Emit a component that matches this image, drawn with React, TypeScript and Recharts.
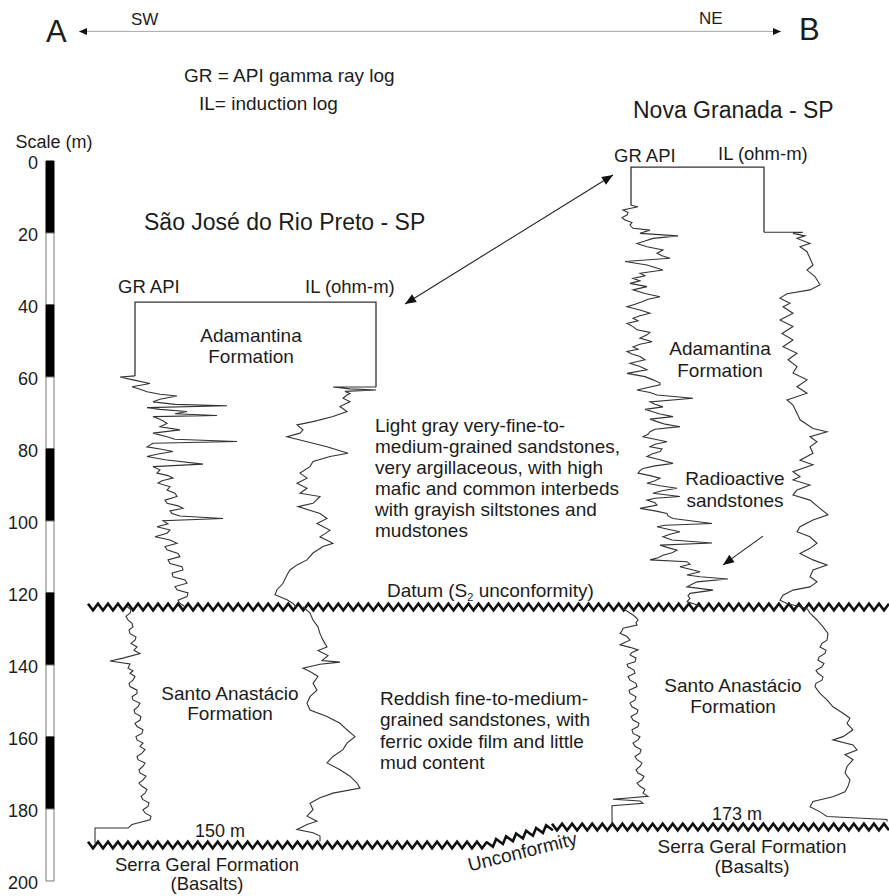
import React from 'react';
import {
  ComposedChart,
  XAxis,
  YAxis,
  Scatter,
  ReferenceLine,
  ReferenceArea,
  ReferenceDot,
} from 'recharts';

type Pt = { x: number; d: number };

// depth scale (m)
const depthTicks = [0, 20, 40, 60, 80, 100, 120, 140, 160, 180, 200];

// formation tops (m, relative to datum section)
const datumDepth = 123.9;
const baseDepthSW = 190.0;
const baseDepthNE = 185.0;
const unconformityRiseStart = 487;
const unconformityRiseEnd = 552;

// ---- São José do Rio Preto well (SW) ----
const w1Frame: Pt[] = [
  { x: 135, d: 59.7 }, { x: 135, d: 39.2 }, { x: 376, d: 39.2 }, { x: 376, d: 62.8 },
];

const w1GrUpper: Pt[] = [
  { d: 59.7, x: 135 }, { d: 60.0, x: 120 }, { d: 60.8, x: 133 }, { d: 61.8, x: 150 },
  { d: 62.7, x: 132 }, { d: 63.4, x: 140 }, { d: 64.1, x: 147 }, { d: 64.8, x: 160 },
  { d: 65.3, x: 177 }, { d: 66.2, x: 160 }, { d: 66.9, x: 153 }, { d: 67.6, x: 175 },
  { d: 68.0, x: 227 }, { d: 68.5, x: 147 }, { d: 69.0, x: 160 }, { d: 69.6, x: 187 },
  { d: 70.2, x: 175 }, { d: 70.7, x: 217 }, { d: 71.0, x: 153 }, { d: 72.0, x: 162 },
  { d: 72.9, x: 167 }, { d: 73.8, x: 160 }, { d: 74.7, x: 180 }, { d: 75.6, x: 153 },
  { d: 76.6, x: 167 }, { d: 77.3, x: 175 }, { d: 77.9, x: 237 }, { d: 78.4, x: 153 },
  { d: 79.4, x: 147 }, { d: 80.0, x: 160 }, { d: 80.7, x: 173 }, { d: 81.4, x: 158 },
  { d: 82.1, x: 147 }, { d: 83.0, x: 165 }, { d: 84.2, x: 203 }, { d: 84.9, x: 153 },
  { d: 85.8, x: 160 }, { d: 86.7, x: 157 }, { d: 87.4, x: 168 }, { d: 88.1, x: 173 },
  { d: 88.8, x: 162 }, { d: 89.5, x: 158 }, { d: 90.5, x: 170 }, { d: 91.4, x: 167 },
  { d: 92.3, x: 175 }, { d: 93.2, x: 177 }, { d: 94.2, x: 165 }, { d: 95.1, x: 167 },
  { d: 95.8, x: 178 }, { d: 96.5, x: 183 }, { d: 97.2, x: 170 }, { d: 97.9, x: 172 },
  { d: 98.6, x: 180 }, { d: 99.3, x: 223 }, { d: 99.9, x: 163 }, { d: 100.8, x: 168 },
  { d: 101.6, x: 157 }, { d: 102.5, x: 170 }, { d: 103.4, x: 167 }, { d: 104.4, x: 155 },
  { d: 105.3, x: 170 }, { d: 106.2, x: 177 }, { d: 107.1, x: 165 }, { d: 108.0, x: 167 },
  { d: 109.0, x: 178 }, { d: 109.9, x: 180 }, { d: 110.8, x: 168 }, { d: 111.8, x: 170 },
  { d: 112.7, x: 182 }, { d: 113.6, x: 183 }, { d: 114.5, x: 172 }, { d: 115.5, x: 173 },
  { d: 116.4, x: 185 }, { d: 117.3, x: 187 }, { d: 118.2, x: 175 }, { d: 119.1, x: 177 },
  { d: 120.0, x: 188 }, { d: 121.0, x: 187 }, { d: 122.0, x: 178 }, { d: 122.9, x: 180 },
  { d: 123.8, x: 185 },
];

const w1IlUpper: Pt[] = [
  { d: 62.8, x: 376 }, { d: 62.8, x: 333 }, { d: 63.3, x: 350 }, { d: 63.6, x: 376 },
  { d: 64.0, x: 345 }, { d: 64.6, x: 350 }, { d: 65.0, x: 347 }, { d: 65.9, x: 343 },
  { d: 66.9, x: 350 }, { d: 68.2, x: 340 }, { d: 69.6, x: 347 }, { d: 71.0, x: 333 },
  { d: 72.4, x: 313 }, { d: 73.3, x: 297 }, { d: 74.7, x: 303 }, { d: 75.6, x: 300 },
  { d: 76.6, x: 287 }, { d: 77.5, x: 300 }, { d: 79.4, x: 327 }, { d: 81.2, x: 348 },
  { d: 82.1, x: 330 }, { d: 83.5, x: 313 }, { d: 84.9, x: 310 }, { d: 86.7, x: 300 },
  { d: 88.1, x: 307 }, { d: 89.5, x: 297 }, { d: 90.9, x: 307 }, { d: 92.3, x: 300 },
  { d: 93.2, x: 320 }, { d: 95.1, x: 313 }, { d: 96.0, x: 298 }, { d: 97.9, x: 320 },
  { d: 99.3, x: 327 }, { d: 100.7, x: 317 }, { d: 102.6, x: 330 }, { d: 104.4, x: 320 },
  { d: 106.2, x: 333 }, { d: 107.1, x: 323 }, { d: 108.9, x: 313 }, { d: 110.8, x: 307 },
  { d: 112.2, x: 297 }, { d: 113.6, x: 290 }, { d: 115.0, x: 287 }, { d: 117.3, x: 283 },
  { d: 119.1, x: 277 }, { d: 120.5, x: 275 }, { d: 121.9, x: 287 }, { d: 122.9, x: 293 },
  { d: 124.2, x: 297 },
];

const w1GrLower: Pt[] = [
  { d: 123.8, x: 127 }, { d: 124.7, x: 131 }, { d: 125.6, x: 130 }, { d: 126.5, x: 126 },
  { d: 127.5, x: 128 }, { d: 128.4, x: 132 }, { d: 129.4, x: 133 }, { d: 130.3, x: 129 },
  { d: 131.3, x: 130 }, { d: 132.2, x: 136 }, { d: 133.1, x: 135 }, { d: 134.0, x: 131 },
  { d: 135.0, x: 137 }, { d: 135.9, x: 134 }, { d: 136.8, x: 140 }, { d: 138.1, x: 123 },
  { d: 138.9, x: 110 }, { d: 139.7, x: 130 }, { d: 140.9, x: 128 }, { d: 141.6, x: 133 },
  { d: 142.3, x: 130 }, { d: 143.2, x: 135 }, { d: 144.2, x: 133 }, { d: 145.1, x: 129 },
  { d: 146.0, x: 130 }, { d: 147.0, x: 137 }, { d: 147.9, x: 137 }, { d: 148.8, x: 132 },
  { d: 149.7, x: 133 }, { d: 150.6, x: 140 }, { d: 151.6, x: 138 }, { d: 152.5, x: 134 },
  { d: 153.4, x: 135 }, { d: 154.3, x: 141 }, { d: 155.3, x: 140 }, { d: 156.2, x: 135 },
  { d: 157.1, x: 137 }, { d: 158.0, x: 143 }, { d: 159.0, x: 142 }, { d: 159.9, x: 136 },
  { d: 160.8, x: 137 }, { d: 161.7, x: 143 }, { d: 162.6, x: 140 }, { d: 163.5, x: 145 },
  { d: 164.5, x: 142 }, { d: 165.4, x: 137 }, { d: 166.3, x: 138 }, { d: 167.2, x: 145 },
  { d: 168.2, x: 143 }, { d: 169.1, x: 139 }, { d: 170.0, x: 140 }, { d: 170.9, x: 146 },
  { d: 171.9, x: 143 }, { d: 172.8, x: 139 }, { d: 173.7, x: 142 }, { d: 174.6, x: 147 },
  { d: 175.6, x: 145 }, { d: 176.5, x: 141 }, { d: 177.4, x: 143 }, { d: 178.3, x: 149 },
  { d: 179.3, x: 148 }, { d: 180.2, x: 143 }, { d: 181.1, x: 145 }, { d: 182.0, x: 151 },
  { d: 183.0, x: 150 }, { d: 184.3, x: 132 }, { d: 185.3, x: 128 }, { d: 185.3, x: 95 },
  { d: 189.5, x: 95 },
];

const w1IlLower: Pt[] = [
  { d: 123.8, x: 303 }, { d: 125.6, x: 310 }, { d: 127.5, x: 313 }, { d: 129.4, x: 318 },
  { d: 131.3, x: 320 }, { d: 133.1, x: 323 }, { d: 135.0, x: 327 }, { d: 136.0, x: 318 },
  { d: 137.4, x: 328 }, { d: 138.8, x: 322 }, { d: 139.2, x: 340 }, { d: 139.8, x: 320 },
  { d: 140.9, x: 303 }, { d: 141.8, x: 310 }, { d: 143.2, x: 318 }, { d: 145.1, x: 313 },
  { d: 147.0, x: 317 }, { d: 148.8, x: 310 }, { d: 150.6, x: 307 }, { d: 152.5, x: 310 },
  { d: 154.3, x: 327 }, { d: 156.2, x: 340 }, { d: 158.0, x: 347 }, { d: 159.9, x: 355 },
  { d: 161.7, x: 347 }, { d: 163.5, x: 343 }, { d: 165.4, x: 333 }, { d: 167.2, x: 327 },
  { d: 169.1, x: 340 }, { d: 170.9, x: 350 }, { d: 172.8, x: 357 }, { d: 174.2, x: 360 },
  { d: 175.6, x: 333 }, { d: 176.9, x: 320 }, { d: 178.4, x: 310 }, { d: 180.2, x: 313 },
  { d: 182.0, x: 307 }, { d: 183.4, x: 317 }, { d: 184.3, x: 307 }, { d: 185.7, x: 297 },
  { d: 186.6, x: 313 }, { d: 187.5, x: 320 }, { d: 189.0, x: 320 },
];

// ---- Nova Granada well (NE) ----
const w2Frame: Pt[] = [
  { x: 631, d: 12.3 }, { x: 631, d: 1.7 }, { x: 764, d: 1.7 }, { x: 764, d: 19.8 },
];

const w2GrUpper: Pt[] = [
  { d: 12.3, x: 631 }, { d: 12.7, x: 638 }, { d: 13.6, x: 623 }, { d: 14.3, x: 628 },
  { d: 15.0, x: 627 }, { d: 15.7, x: 622 }, { d: 16.4, x: 625 }, { d: 17.1, x: 632 },
  { d: 17.8, x: 630 }, { d: 18.7, x: 633 }, { d: 19.2, x: 650 }, { d: 20.1, x: 640 },
  { d: 20.8, x: 678 }, { d: 21.5, x: 653 }, { d: 22.2, x: 645 }, { d: 22.9, x: 637 },
  { d: 23.8, x: 647 }, { d: 24.7, x: 663 }, { d: 25.6, x: 657 }, { d: 26.3, x: 662 },
  { d: 27.0, x: 670 }, { d: 27.9, x: 625 }, { d: 28.9, x: 647 }, { d: 29.6, x: 655 },
  { d: 30.3, x: 663 }, { d: 31.2, x: 640 }, { d: 31.9, x: 645 }, { d: 32.6, x: 633 },
  { d: 33.3, x: 640 }, { d: 34.0, x: 630 }, { d: 34.9, x: 647 }, { d: 35.8, x: 633 },
  { d: 36.8, x: 645 }, { d: 37.7, x: 660 }, { d: 38.4, x: 648 }, { d: 39.1, x: 642 },
  { d: 39.8, x: 635 }, { d: 40.5, x: 627 }, { d: 41.4, x: 640 }, { d: 42.3, x: 650 },
  { d: 43.0, x: 640 }, { d: 43.7, x: 633 }, { d: 44.4, x: 638 }, { d: 45.1, x: 627 },
  { d: 46.0, x: 633 }, { d: 46.9, x: 637 }, { d: 47.6, x: 650 }, { d: 48.3, x: 647 },
  { d: 49.2, x: 640 }, { d: 50.2, x: 652 }, { d: 50.9, x: 640 }, { d: 51.6, x: 633 },
  { d: 52.3, x: 638 }, { d: 52.9, x: 627 }, { d: 53.6, x: 632 }, { d: 54.3, x: 640 },
  { d: 55.2, x: 645 }, { d: 56.2, x: 630 }, { d: 57.1, x: 640 }, { d: 58.0, x: 647 },
  { d: 59.0, x: 627 }, { d: 59.9, x: 645 }, { d: 60.8, x: 653 }, { d: 61.7, x: 660 },
  { d: 62.2, x: 660 }, { d: 63.6, x: 637 }, { d: 64.3, x: 650 }, { d: 65.0, x: 657 },
  { d: 65.9, x: 693 }, { d: 66.9, x: 650 }, { d: 67.6, x: 655 }, { d: 68.3, x: 663 },
  { d: 69.0, x: 645 }, { d: 69.6, x: 652 }, { d: 70.3, x: 660 }, { d: 71.0, x: 673 },
  { d: 71.7, x: 650 }, { d: 72.4, x: 657 }, { d: 73.1, x: 665 }, { d: 73.8, x: 680 },
  { d: 74.5, x: 655 }, { d: 75.2, x: 650 }, { d: 75.9, x: 648 }, { d: 76.6, x: 643 },
  { d: 77.3, x: 655 }, { d: 78.0, x: 667 }, { d: 78.7, x: 655 }, { d: 79.4, x: 650 },
  { d: 80.0, x: 662 }, { d: 80.7, x: 660 }, { d: 81.4, x: 652 }, { d: 82.1, x: 647 },
  { d: 83.0, x: 660 }, { d: 84.0, x: 673 }, { d: 84.7, x: 655 }, { d: 85.4, x: 643 },
  { d: 86.0, x: 640 }, { d: 86.7, x: 638 }, { d: 87.4, x: 650 }, { d: 88.1, x: 660 },
  { d: 88.8, x: 655 }, { d: 89.5, x: 647 }, { d: 90.2, x: 660 }, { d: 90.9, x: 677 },
  { d: 91.6, x: 662 }, { d: 92.3, x: 653 }, { d: 93.2, x: 680 }, { d: 93.7, x: 655 },
  { d: 94.2, x: 647 }, { d: 94.9, x: 655 }, { d: 95.6, x: 657 }, { d: 96.5, x: 640 },
  { d: 97.2, x: 655 }, { d: 97.9, x: 667 }, { d: 98.6, x: 668 }, { d: 99.3, x: 673 },
  { d: 100.7, x: 712 }, { d: 101.2, x: 665 }, { d: 101.6, x: 657 }, { d: 102.3, x: 668 },
  { d: 103.0, x: 680 }, { d: 103.7, x: 670 }, { d: 104.4, x: 663 }, { d: 105.3, x: 672 },
  { d: 106.1, x: 712 }, { d: 106.7, x: 660 }, { d: 107.4, x: 668 }, { d: 108.1, x: 677 },
  { d: 108.8, x: 672 }, { d: 109.5, x: 663 }, { d: 110.2, x: 658 }, { d: 110.8, x: 650 },
  { d: 111.3, x: 687 }, { d: 112.0, x: 690 }, { d: 112.7, x: 680 }, { d: 113.4, x: 690 },
  { d: 114.1, x: 700 }, { d: 115.0, x: 687 }, { d: 115.5, x: 700 }, { d: 116.1, x: 728 },
  { d: 116.9, x: 697 }, { d: 117.6, x: 692 }, { d: 118.3, x: 687 }, { d: 119.2, x: 713 },
  { d: 120.1, x: 690 }, { d: 120.8, x: 688 }, { d: 121.5, x: 690 }, { d: 122.4, x: 687 },
  { d: 123.1, x: 695 }, { d: 123.8, x: 700 },
];

const w2IlUpper: Pt[] = [
  { d: 19.8, x: 764 }, { d: 19.8, x: 803 }, { d: 20.1, x: 793 }, { d: 20.8, x: 805 },
  { d: 21.5, x: 797 }, { d: 22.9, x: 810 }, { d: 23.8, x: 800 }, { d: 25.2, x: 807 },
  { d: 27.0, x: 810 }, { d: 28.9, x: 813 }, { d: 30.3, x: 807 }, { d: 32.1, x: 815 },
  { d: 34.4, x: 820 }, { d: 35.8, x: 810 }, { d: 36.9, x: 787 }, { d: 38.1, x: 780 },
  { d: 39.5, x: 790 }, { d: 40.5, x: 783 }, { d: 42.3, x: 793 }, { d: 44.2, x: 780 },
  { d: 46.0, x: 793 }, { d: 47.9, x: 782 }, { d: 49.7, x: 793 }, { d: 51.6, x: 783 },
  { d: 53.4, x: 797 }, { d: 55.2, x: 788 }, { d: 57.1, x: 797 }, { d: 58.9, x: 793 },
  { d: 60.8, x: 807 }, { d: 62.7, x: 797 }, { d: 64.5, x: 807 }, { d: 66.4, x: 787 },
  { d: 67.8, x: 793 }, { d: 70.1, x: 797 }, { d: 71.9, x: 800 }, { d: 74.3, x: 813 },
  { d: 75.2, x: 827 }, { d: 76.6, x: 810 }, { d: 78.0, x: 817 }, { d: 79.4, x: 810 },
  { d: 81.2, x: 813 }, { d: 83.1, x: 800 }, { d: 84.4, x: 813 }, { d: 86.3, x: 793 },
  { d: 87.7, x: 800 }, { d: 88.6, x: 793 }, { d: 90.0, x: 810 }, { d: 91.4, x: 797 },
  { d: 92.8, x: 793 }, { d: 94.2, x: 810 }, { d: 96.5, x: 820 }, { d: 98.3, x: 828 },
  { d: 99.7, x: 813 }, { d: 101.6, x: 800 }, { d: 103.0, x: 797 }, { d: 104.4, x: 810 },
  { d: 106.2, x: 817 }, { d: 107.6, x: 810 }, { d: 109.0, x: 800 }, { d: 110.8, x: 813 },
  { d: 112.2, x: 827 }, { d: 113.6, x: 813 }, { d: 115.5, x: 810 }, { d: 116.9, x: 817 },
  { d: 118.3, x: 810 }, { d: 119.2, x: 793 }, { d: 120.6, x: 783 }, { d: 122.0, x: 780 },
  { d: 122.9, x: 787 }, { d: 124.3, x: 807 },
];

const w2GrLower: Pt[] = [
  { d: 124.3, x: 623 }, { d: 125.2, x: 628 }, { d: 126.1, x: 633 }, { d: 126.8, x: 636 },
  { d: 127.5, x: 638 }, { d: 128.2, x: 636 }, { d: 128.9, x: 637 }, { d: 129.8, x: 623 },
  { d: 130.5, x: 622 }, { d: 131.2, x: 620 }, { d: 132.1, x: 627 }, { d: 133.1, x: 630 },
  { d: 133.8, x: 624 }, { d: 134.4, x: 620 }, { d: 135.1, x: 630 }, { d: 135.8, x: 638 },
  { d: 136.5, x: 632 }, { d: 137.2, x: 630 }, { d: 138.1, x: 636 }, { d: 139.1, x: 635 },
  { d: 139.8, x: 627 }, { d: 140.5, x: 628 }, { d: 141.4, x: 634 }, { d: 142.3, x: 635 },
  { d: 143.2, x: 628 }, { d: 144.2, x: 630 }, { d: 145.1, x: 636 }, { d: 146.0, x: 637 },
  { d: 147.0, x: 629 }, { d: 147.9, x: 630 }, { d: 148.8, x: 636 }, { d: 149.7, x: 635 },
  { d: 150.6, x: 630 }, { d: 151.6, x: 632 }, { d: 152.5, x: 638 }, { d: 153.4, x: 637 },
  { d: 154.3, x: 631 }, { d: 155.3, x: 633 }, { d: 156.2, x: 639 }, { d: 157.1, x: 638 },
  { d: 158.0, x: 632 }, { d: 159.0, x: 633 }, { d: 159.9, x: 640 }, { d: 160.8, x: 638 },
  { d: 161.7, x: 633 }, { d: 162.6, x: 635 }, { d: 163.5, x: 641 }, { d: 164.5, x: 640 },
  { d: 165.4, x: 635 }, { d: 166.3, x: 637 }, { d: 167.2, x: 642 }, { d: 168.2, x: 640 },
  { d: 169.1, x: 636 }, { d: 170.0, x: 638 }, { d: 170.9, x: 644 }, { d: 171.9, x: 642 },
  { d: 172.8, x: 637 }, { d: 173.7, x: 640 }, { d: 174.6, x: 645 }, { d: 175.6, x: 643 },
  { d: 176.5, x: 648 }, { d: 177.3, x: 613 }, { d: 177.8, x: 640 }, { d: 178.4, x: 643 },
  { d: 179.1, x: 612 }, { d: 179.8, x: 612 }, { d: 184.4, x: 612 },
];

const w2IlLower: Pt[] = [
  { d: 124.3, x: 807 }, { d: 125.6, x: 810 }, { d: 127.5, x: 817 }, { d: 129.4, x: 823 },
  { d: 131.2, x: 828 }, { d: 133.1, x: 827 }, { d: 134.0, x: 822 }, { d: 135.0, x: 820 },
  { d: 135.9, x: 826 }, { d: 136.8, x: 825 }, { d: 137.8, x: 819 }, { d: 138.7, x: 818 },
  { d: 139.6, x: 824 }, { d: 140.5, x: 822 }, { d: 141.5, x: 816 }, { d: 142.3, x: 818 },
  { d: 143.3, x: 823 }, { d: 144.2, x: 822 }, { d: 145.1, x: 816 }, { d: 146.0, x: 815 },
  { d: 147.9, x: 820 }, { d: 149.7, x: 827 }, { d: 151.6, x: 833 }, { d: 153.4, x: 843 },
  { d: 154.8, x: 850 }, { d: 156.2, x: 847 }, { d: 158.0, x: 853 }, { d: 159.9, x: 843 },
  { d: 160.8, x: 833 }, { d: 162.2, x: 853 }, { d: 163.6, x: 857 }, { d: 164.9, x: 845 },
  { d: 166.3, x: 853 }, { d: 168.2, x: 847 }, { d: 170.0, x: 845 }, { d: 171.9, x: 850 },
  { d: 173.7, x: 848 }, { d: 175.2, x: 845 }, { d: 176.6, x: 833 }, { d: 177.9, x: 813 },
  { d: 179.4, x: 810 }, { d: 180.8, x: 820 }, { d: 182.1, x: 827 }, { d: 182.9, x: 887 },
  { d: 183.5, x: 887 },
];

const FONT = '"Liberation Sans", Arial, Helvetica, sans-serif';
const INK = '#1c1c1c';
const LOG = '#333333';

const noShape = () => <g />;

// zig-zag unconformity symbol drawn along a reference segment
const zigzag = (props: any) => {
  const { x1, y1, x2, y2 } = props;
  const dx = x2 - x1;
  const dy = y2 - y1;
  const len = Math.hypot(dx, dy);
  if (!len) return <g />;
  const ux = dx / len;
  const uy = dy / len;
  const px = -uy;
  const py = ux;
  const n = Math.max(1, Math.round(len / 5));
  let p = '';
  for (let i = 0; i <= n; i++) {
    const t = (i / n) * len;
    const s = i % 2 === 0 ? -3.3 : 3.3;
    p += `${i ? 'L' : 'M'}${(x1 + ux * t + px * s).toFixed(1)},${(y1 + uy * t + py * s).toFixed(1)}`;
  }
  return <path d={p} stroke="#111" strokeWidth={2.6} fill="none" />;
};

const arrowShape =
  (startHead: boolean, endHead: boolean, color: string, lineColor: string, w: number, hl: number, hw: number) =>
  (props: any) => {
    const { x1, y1, x2, y2 } = props;
    const dx = x2 - x1;
    const dy = y2 - y1;
    const len = Math.hypot(dx, dy) || 1;
    const ux = dx / len;
    const uy = dy / len;
    const head = (tx: number, ty: number, dirx: number, diry: number) => {
      const bx = tx - dirx * hl;
      const by = ty - diry * hl;
      const pts = [
        [tx, ty],
        [bx - diry * hw, by + dirx * hw],
        [bx + diry * hw, by - dirx * hw],
      ];
      return <polygon points={pts.map((q) => q.join(',')).join(' ')} fill={color} />;
    };
    return (
      <g>
        <line x1={x1} y1={y1} x2={x2} y2={y2} stroke={lineColor} strokeWidth={w} />
        {startHead && head(x1, y1, -ux, -uy)}
        {endHead && head(x2, y2, ux, uy)}
      </g>
    );
  };

const note = (
  key: string,
  x: number,
  d: number,
  content: string | string[] | React.ReactNode,
  size: number,
  anchor: 'start' | 'middle' | 'end' = 'start',
  lh = 21,
  rotate = 0
) => (
  <ReferenceDot
    key={key}
    x={x}
    y={d}
    r={0}
    ifOverflow="visible"
    shape={(p: any) => (
      <text
        x={p.cx}
        y={p.cy}
        fontSize={size}
        fontFamily={FONT}
        fill={INK}
        textAnchor={anchor}
        transform={rotate ? `rotate(${rotate} ${p.cx} ${p.cy})` : undefined}
      >
        {Array.isArray(content)
          ? (content as string[]).map((l, i) => (
              <tspan key={i} x={p.cx} dy={i === 0 ? 0 : lh}>
                {l}
              </tspan>
            ))
          : content}
      </text>
    )}
  />
);

const logLine = (key: string, data: Pt[], width = 1.1) => (
  <Scatter
    key={key}
    data={data}
    line={{ stroke: LOG, strokeWidth: width }}
    lineJointType="linear"
    shape={noShape}
    isAnimationActive={false}
  />
);

export default function App() {
  return (
    <div style={{ position: 'absolute', left: 0, top: 0, width: 889, height: 896, background: '#fff' }}>
      <ComposedChart width={889} height={896} margin={{ top: 0, right: 0, bottom: 0, left: 0 }}>
        <XAxis type="number" dataKey="x" domain={[44, 889]} hide allowDataOverflow />
        <YAxis
          type="number"
          dataKey="d"
          domain={[-44.72, 204.17]}
          reversed
          allowDataOverflow
          width={44}
          ticks={depthTicks}
          interval={0}
          axisLine={false}
          tickLine={false}
          tickSize={4}
          tickMargin={2}
          tick={{ fontSize: 18, fontFamily: FONT, fill: INK, dy: 2 }}
        />

        {/* scale bar */}
        {depthTicks.slice(0, -1).map((t, i) => (
          <ReferenceArea
            key={`sb${i}`}
            x1={46}
            x2={54}
            y1={t}
            y2={depthTicks[i + 1]}
            fill={i % 2 === 0 ? '#000' : '#fff'}
            fillOpacity={1}
            stroke={i % 2 === 0 ? '#000' : '#777'}
            strokeWidth={1}
            ifOverflow="visible"
          />
        ))}

        {/* A - B direction arrow */}
        <ReferenceLine
          segment={[{ x: 79, y: -36 }, { x: 781, y: -36 }]}
          ifOverflow="visible"
          shape={arrowShape(true, true, '#111', '#a8a8a8', 1, 8, 3.5)}
        />
        {/* correlation arrow between wells */}
        <ReferenceLine
          segment={[{ x: 405, y: 39.7 }, { x: 613, y: 3.9 }]}
          ifOverflow="visible"
          shape={arrowShape(true, true, '#111', '#222', 1.1, 11, 4.5)}
        />
        {/* radioactive sandstones pointer */}
        <ReferenceLine
          segment={[{ x: 763, y: 104.2 }, { x: 723, y: 112.2 }]}
          ifOverflow="visible"
          shape={arrowShape(false, true, '#111', '#222', 1.1, 11, 4.5)}
        />

        {/* unconformities */}
        <ReferenceLine
          segment={[{ x: 88, y: datumDepth }, { x: 889, y: datumDepth }]}
          ifOverflow="visible"
          shape={zigzag}
        />
        <ReferenceLine
          segment={[{ x: 88, y: baseDepthSW }, { x: unconformityRiseStart, y: baseDepthSW }]}
          ifOverflow="visible"
          shape={zigzag}
        />
        <ReferenceLine
          segment={[{ x: unconformityRiseStart, y: baseDepthSW }, { x: unconformityRiseEnd, y: baseDepthNE }]}
          ifOverflow="visible"
          shape={zigzag}
        />
        <ReferenceLine
          segment={[{ x: unconformityRiseEnd, y: baseDepthNE }, { x: 889, y: baseDepthNE }]}
          ifOverflow="visible"
          shape={zigzag}
        />

        {/* logs */}
        {logLine('w1f', w1Frame, 1.3)}
        {logLine('w1gu', w1GrUpper)}
        {logLine('w1iu', w1IlUpper)}
        {logLine('w1gl', w1GrLower)}
        {logLine('w1il', w1IlLower)}
        {logLine('w2f', w2Frame, 1.3)}
        {logLine('w2gu', w2GrUpper)}
        {logLine('w2iu', w2IlUpper)}
        {logLine('w2gl', w2GrLower)}
        {logLine('w2il', w2IlLower)}

        {/* annotations */}
        {note('A', 46, -33.1, 'A', 31)}
        {note('B', 799, -33.6, 'B', 31)}
        {note('SW', 131, -37.8, 'SW', 17)}
        {note('NE', 699, -38.1, 'NE', 17)}
        {note('gr', 184, -21.9, 'GR = API gamma ray log', 19)}
        {note('il', 199, -14.2, 'IL= induction log', 19)}
        {note('scale', 54, -3.6, 'Scale (m)', 18, 'middle')}
        {note('w1t', 144, 19.2, 'São José do Rio Preto - SP', 23)}
        {note('w2t', 633, -11.9, 'Nova Granada - SP', 23)}
        {note('w1gr', 118, 36.7, 'GR API', 18.5)}
        {note('w1il', 305, 36.7, 'IL (ohm-m)', 18.5)}
        {note('w2gr', 614, 0.3, 'GR API', 18.5)}
        {note('w2il', 718, -0.3, 'IL (ohm-m)', 18.5)}
        {note('w1ad', 251, 50.3, ['Adamantina', 'Formation'], 19, 'middle', 21)}
        {note('w2ad', 720, 53.9, ['Adamantina', 'Formation'], 19, 'middle', 22)}
        {note(
          'lg',
          375,
          75.3,
          [
            'Light gray very-fine-to-',
            'medium-grained sandstones,',
            'very argillaceous, with high',
            'mafic and common interbeds',
            'with grayish siltstones and',
            'mudstones',
          ],
          19,
          'start',
          21
        )}
        {note('rad', 735, 90.0, ['Radioactive', 'sandstones'], 19, 'middle', 22)}
        {note(
          'datum',
          387,
          121.1,
          <>
            <tspan>Datum (S</tspan>
            <tspan fontSize={11} dy={4}>2</tspan>
            <tspan dy={-4}> unconformity)</tspan>
          </>,
          19
        )}
        {note(
          'red',
          380,
          151.1,
          ['Reddish fine-to-medium-', 'grained sandstones, with', 'ferric oxide film and little', 'mud content'],
          19,
          'start',
          21.3
        )}
        {note('w1sa', 230, 149.7, ['Santo Anastácio', 'Formation'], 19, 'middle', 20.5)}
        {note('w2sa', 733, 147.5, ['Santo Anastácio', 'Formation'], 19, 'middle', 21)}
        {note('t150', 220, 187.8, '150 m', 18, 'middle')}
        {note('t173', 737, 183.1, '173 m', 18, 'middle')}
        {note('w1sg', 207, 197.2, ['Serra Geral Formation', '(Basalts)'], 18.5, 'middle', 19.5)}
        {note('w2sg', 752, 192.2, ['Serra Geral Formation', '(Basalts)'], 19, 'middle', 20)}
        {note('unc', 524, 193.6, 'Unconformity', 19, 'middle', 21, -14)}
      </ComposedChart>
    </div>
  );
}
